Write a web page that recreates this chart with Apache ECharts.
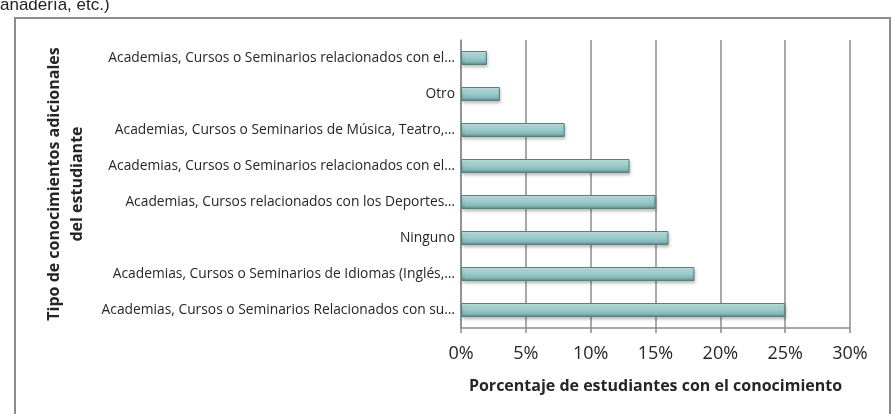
<!DOCTYPE html>
<html>
<head>
<meta charset="utf-8">
<script src="https://cdn.jsdelivr.net/npm/echarts@6/dist/echarts.min.js"></script>
<style>
  html, body { margin: 0; padding: 0; background: #fff; }
  #chart-panel { width: 894px; height: 414px; }
</style>
</head>
<body>
<div id="chart-panel"></div>
<script>
// categorias de arriba hacia abajo
var categorias = [
  'Academias, Cursos o Seminarios relacionados con el…',
  'Otro',
  'Academias, Cursos o Seminarios de Música, Teatro,…',
  'Academias, Cursos o Seminarios relacionados con el…',
  'Academias, Cursos relacionados con los Deportes…',
  'Ninguno',
  'Academias, Cursos o Seminarios de Idiomas (Inglés,…',
  'Academias, Cursos o Seminarios Relacionados con su…'
];
// porcentaje de estudiantes
var valores = [2, 3, 8, 13, 15, 16, 18, 25];
var ticksX = [0, 5, 10, 15, 20, 25, 30];

let chartPanel = document.getElementById('chart-panel');
let myChart = echarts.init(chartPanel);

myChart.setOption({
  backgroundColor: '#fff',
  animation: false,
  graphic: [
    {
      type: 'rect',
      shape: { x: 15, y: 18, width: 875, height: 420 },
      style: { fill: 'none', stroke: '#8c8c8c', lineWidth: 2 },
      silent: true
    },
    {
      type: 'text',
      x: 0,
      y: 14,
      style: {
        text: 'anadería, etc.)',
        font: '17px "Liberation Sans", Arial, sans-serif',
        fill: '#222',
        verticalAlign: 'bottom'
      },
      silent: true
    }
  ],
  grid: { left: 461, right: 44, top: 40, bottom: 86 },
  xAxis: {
    type: 'value',
    min: ticksX[0],
    max: ticksX[ticksX.length - 1],
    interval: 5,
    name: 'Porcentaje de estudiantes con el conocimiento',
    nameLocation: 'middle',
    nameGap: 50,
    nameTextStyle: {
      fontFamily: 'Open Sans',
      fontWeight: 'bold',
      fontSize: 16,
      color: '#262626'
    },
    axisLine: { show: true, lineStyle: { color: '#8c8c8c', width: 1.5 } },
    axisTick: { show: true, length: 5, lineStyle: { color: '#8c8c8c', width: 1.5 } },
    axisLabel: {
      formatter: '{value}%',
      margin: 17,
      fontFamily: 'Open Sans',
      fontSize: 18,
      color: '#262626'
    },
    splitLine: { show: true, lineStyle: { color: '#8c8c8c', width: 1.5 } }
  },
  yAxis: {
    type: 'category',
    inverse: true,
    data: categorias,
    name: 'Tipo de conocimientos adicionales\ndel estudiante',
    nameLocation: 'middle',
    nameRotate: 90,
    nameGap: 372,
    nameTextStyle: {
      fontFamily: 'Open Sans',
      fontWeight: 'bold',
      fontSize: 16,
      lineHeight: 23,
      color: '#262626'
    },
    axisLine: { show: true, lineStyle: { color: '#8c8c8c', width: 1.5 } },
    axisTick: { show: false },
    axisLabel: {
      margin: 6,
      fontFamily: 'Open Sans',
      fontSize: 13.8,
      color: '#262626'
    }
  },
  series: [{
    type: 'bar',
    data: valores,
    barWidth: 14,
    itemStyle: {
      color: {
        type: 'linear', x: 0, y: 0, x2: 0, y2: 1,
        colorStops: [
          { offset: 0, color: '#d2eeee' },
          { offset: 0.3, color: '#a8d6d6' },
          { offset: 0.75, color: '#86b9b9' },
          { offset: 1, color: '#568585' }
        ]
      },
      borderColor: '#557f7f',
      borderWidth: 1,
      shadowColor: 'rgba(0,0,0,0.25)',
      shadowBlur: 3,
      shadowOffsetX: 1,
      shadowOffsetY: 2
    }
  }]
});
</script>
</body>
</html>
